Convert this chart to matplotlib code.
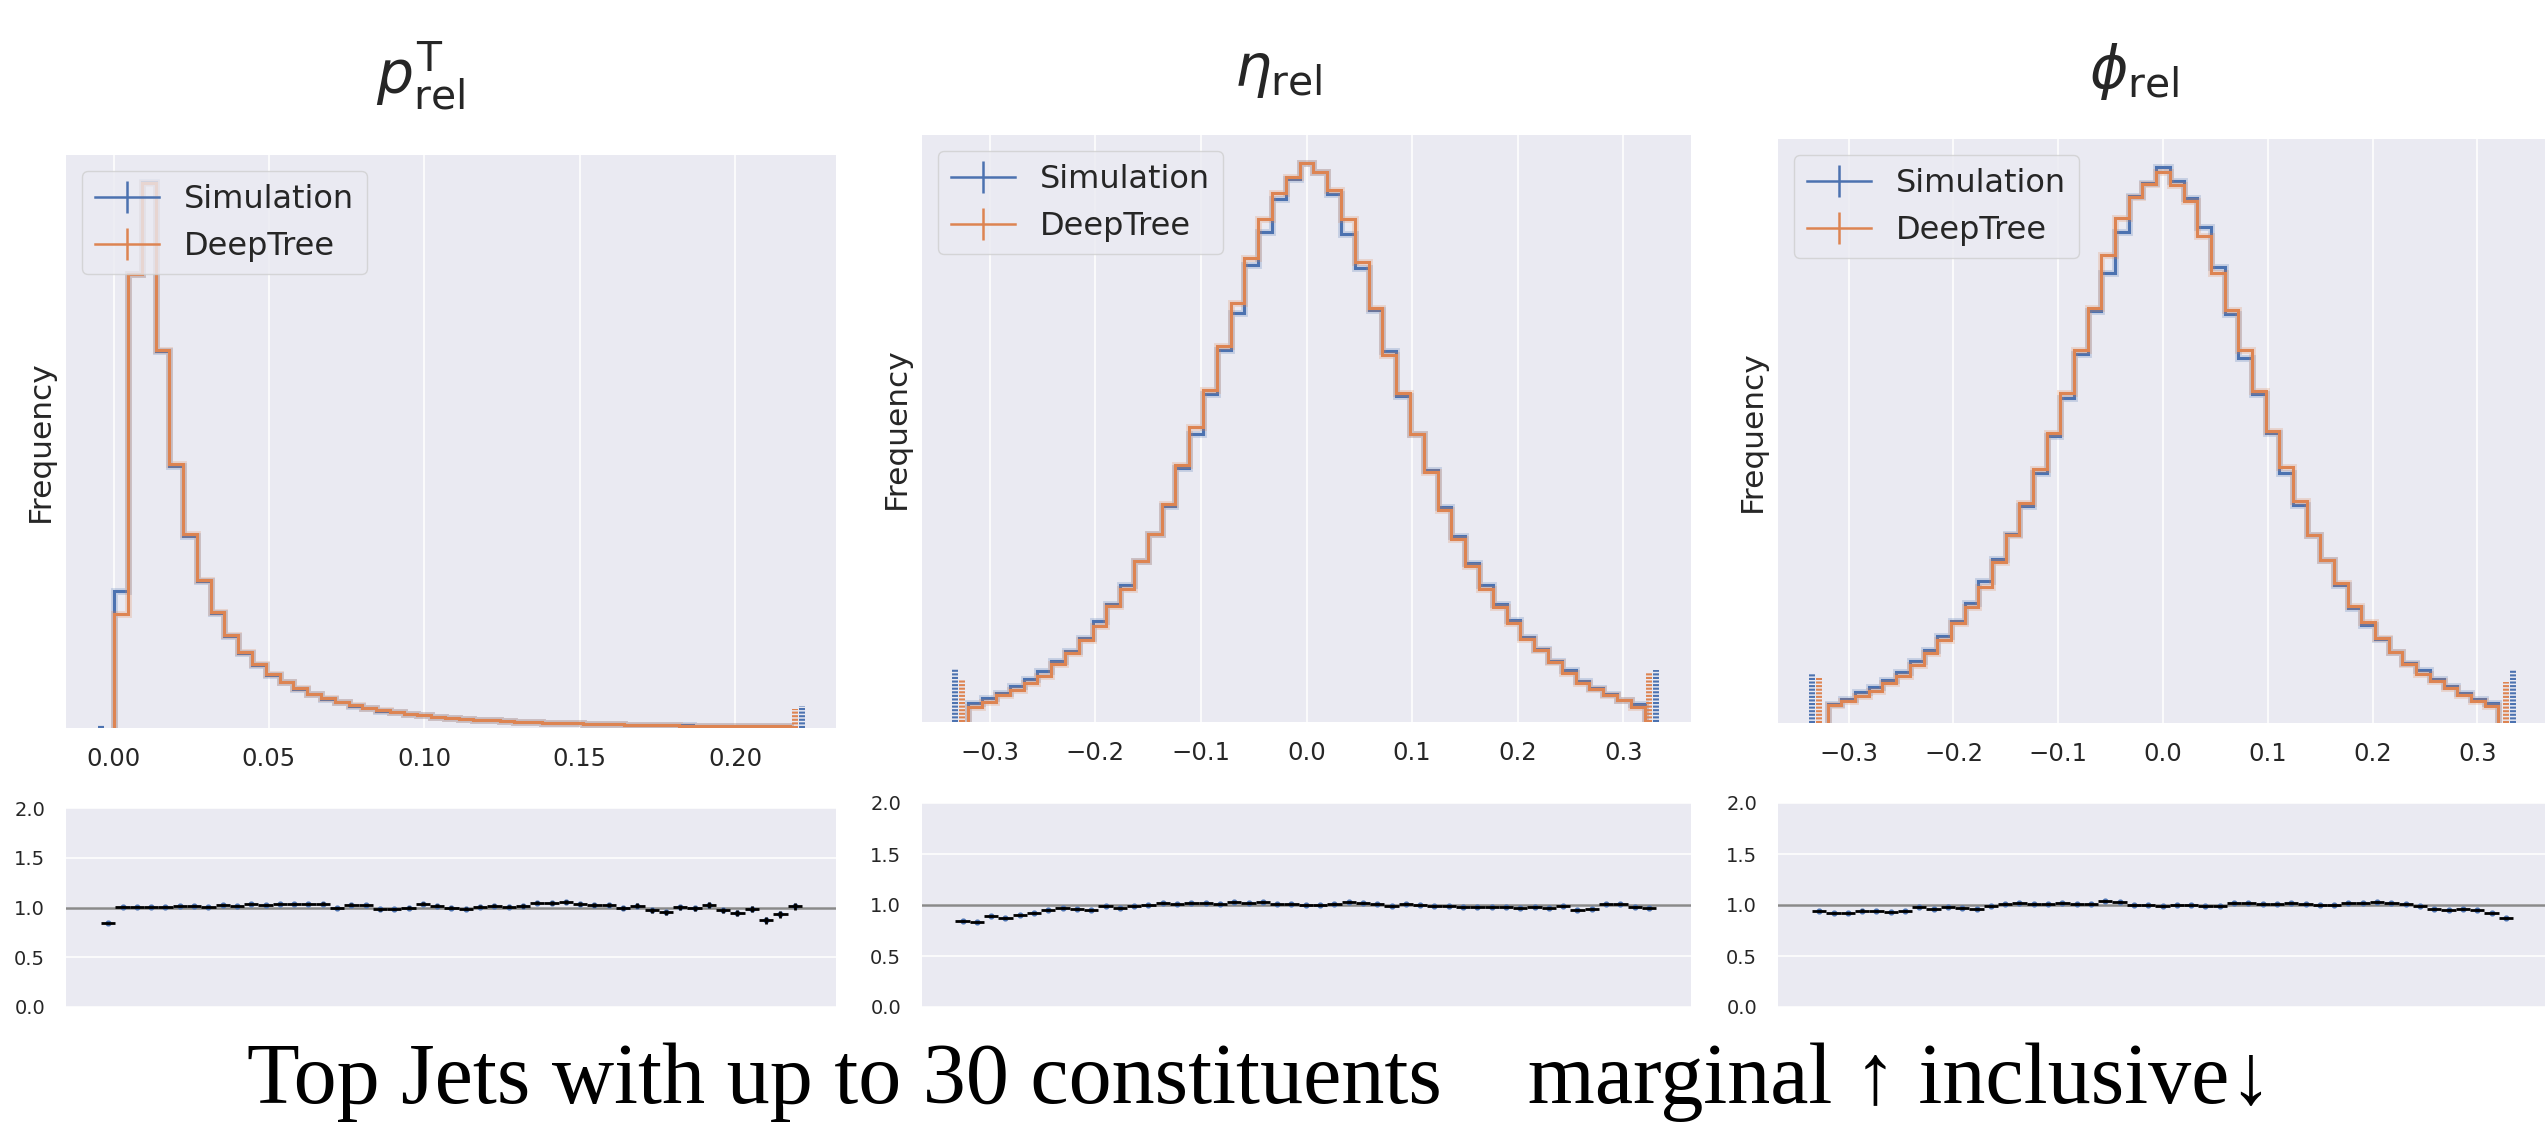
"""
Top-jet marginals: p_T, eta, phi (relative) — Simulation vs DeepTree
with ratio panels underneath.
"""

import matplotlib
matplotlib.use("Agg")
import matplotlib.pyplot as plt
import numpy as np

# ── Canvas ───────────────────────────────────────────────────────────────────
W, H, DPI = 2545, 1124, 100
_BG     = "#EAEAF2"
_TEXT   = "#262626"
_BLUE   = "#4C72B0"
_ORANGE = "#DD8452"
_GREY   = "#8a8a8a"

# ── Data (normalised to the peak bin) ───────────────────────────────────────
PT_RANGE = (0.0002, 0.2176)          # 49 bins
PT_SIM = [0.251, 0.832, 1.000, 0.691, 0.481, 0.352, 0.269, 0.211, 0.168, 0.138,
          0.116, 0.098, 0.084, 0.072, 0.062, 0.054, 0.047, 0.041, 0.036, 0.032,
          0.029, 0.026, 0.023, 0.021, 0.019, 0.017, 0.0155, 0.014, 0.0128, 0.0117,
          0.0107, 0.0098, 0.0090, 0.0083, 0.0077, 0.0071, 0.0066, 0.0061, 0.0057, 0.0053,
          0.0049, 0.0046, 0.0043, 0.0040, 0.0037, 0.0035, 0.0033, 0.0031, 0.0029]
PT_DT  = [0.209, 0.832, 0.998, 0.693, 0.483, 0.355, 0.271, 0.212, 0.170, 0.140,
          0.118, 0.099, 0.085, 0.073, 0.063, 0.055, 0.048, 0.042, 0.037, 0.033,
          0.029, 0.026, 0.023, 0.021, 0.019, 0.017, 0.0155, 0.014, 0.0130, 0.0118,
          0.0108, 0.0099, 0.0092, 0.0085, 0.0078, 0.0072, 0.0066, 0.0061, 0.0056, 0.0052,
          0.0049, 0.0045, 0.0042, 0.0039, 0.0036, 0.0034, 0.0032, 0.0030, 0.0028]

ETA_RANGE = (-0.32, 0.32)
ETA_SIM = [0.0339, 0.0430, 0.0521, 0.0640, 0.0778, 0.0906, 0.1098, 0.1263, 0.1510, 0.1802,
           0.2104, 0.2443, 0.2882, 0.3367, 0.3861, 0.4547, 0.5151, 0.5874, 0.6651, 0.7319,
           0.8170, 0.8765, 0.9360, 0.9716, 1.0000, 0.9835, 0.9442, 0.8737, 0.8115, 0.7365,
           0.6633, 0.5828, 0.5151, 0.4511, 0.3843, 0.3321, 0.2845, 0.2443, 0.2104, 0.1830,
           0.1528, 0.1308, 0.1089, 0.0924, 0.0741, 0.0613, 0.0503, 0.0393, 0.0320]
ETA_DT  = [0.0274, 0.0366, 0.0485, 0.0576, 0.0704, 0.0823, 0.1034, 0.1235, 0.1464, 0.1711,
           0.2077, 0.2379, 0.2882, 0.3367, 0.3907, 0.4593, 0.5279, 0.5947, 0.6725, 0.7502,
           0.8298, 0.8994, 0.9469, 0.9744, 1.0000, 0.9835, 0.9515, 0.8994, 0.8234, 0.7411,
           0.6569, 0.5883, 0.5151, 0.4465, 0.3797, 0.3266, 0.2790, 0.2379, 0.2059, 0.1766,
           0.1491, 0.1281, 0.1070, 0.0869, 0.0704, 0.0595, 0.0485, 0.0393, 0.0274]

PHI_RANGE = (-0.32, 0.32)
PHI_SIM = [0.0348, 0.0440, 0.0550, 0.0642, 0.0779, 0.0917, 0.1118, 0.1311, 0.1558, 0.1833,
           0.2154, 0.2548, 0.2942, 0.3391, 0.3896, 0.4491, 0.5160, 0.5848, 0.6627, 0.7406,
           0.8093, 0.8827, 0.9468, 0.9716, 1.0000, 0.9743, 0.9441, 0.8909, 0.8203, 0.7360,
           0.6554, 0.5912, 0.5206, 0.4500, 0.3923, 0.3373, 0.2933, 0.2484, 0.2071, 0.1769,
           0.1512, 0.1283, 0.1082, 0.0944, 0.0788, 0.0660, 0.0532, 0.0440, 0.0367]
PHI_DT  = [0.0330, 0.0394, 0.0486, 0.0577, 0.0715, 0.0852, 0.1036, 0.1265, 0.1494, 0.1797,
           0.2090, 0.2438, 0.2896, 0.3373, 0.3950, 0.4565, 0.5206, 0.5939, 0.6709, 0.7470,
           0.8414, 0.9074, 0.9450, 0.9697, 0.9908, 0.9679, 0.9377, 0.8763, 0.8093, 0.7434,
           0.6700, 0.5967, 0.5243, 0.4610, 0.3987, 0.3373, 0.2933, 0.2521, 0.2108, 0.1815,
           0.1522, 0.1283, 0.1063, 0.0880, 0.0752, 0.0623, 0.0504, 0.0394, 0.0302]

# outermost samples (x, height) — drawn as dashed stubs at the range edges
PT_ENDS_SIM  = [(-0.0040, 0.006), (0.2215, 0.040)]
PT_ENDS_DT   = [(0.2192, 0.035)]
ETA_ENDS_SIM = [(-0.3324, 0.0955), (0.3310, 0.0925)]
ETA_ENDS_DT  = [(-0.3258, 0.0764), (0.3246, 0.0880)]
PHI_ENDS_SIM = [(-0.3350, 0.0900), (0.3341, 0.0958)]
PHI_ENDS_DT  = [(-0.3284, 0.0810), (0.3271, 0.0730)]

# ratio DeepTree / Simulation (49 bins over the full sample range)
PT_RATIO_RANGE = (-0.0040, 0.2215)
PT_RATIO = [0.840, 1.007, 1.007, 1.003, 1.010, 1.013, 1.017, 1.010, 1.027, 1.020,
            1.033, 1.027, 1.040, 1.040, 1.033, 1.040, 0.993, 1.030, 1.027, 0.980,
            0.987, 1.000, 1.037, 1.017, 1.000, 0.987, 1.007, 1.020, 1.010, 1.013,
            1.050, 1.043, 1.057, 1.037, 1.023, 1.023, 0.997, 1.020, 0.973, 0.953,
            1.003, 0.993, 1.023, 0.970, 0.947, 0.987, 0.870, 0.933, 1.013]
PT_RATIO_ERR = [0.006, 0.004, 0.004, 0.005, 0.005, 0.006, 0.006, 0.007, 0.007, 0.008,
                0.008, 0.009, 0.009, 0.010, 0.010, 0.011, 0.011, 0.012, 0.012, 0.013,
                0.013, 0.014, 0.014, 0.015, 0.015, 0.016, 0.016, 0.017, 0.018, 0.018,
                0.019, 0.020, 0.020, 0.021, 0.022, 0.022, 0.023, 0.024, 0.025, 0.026,
                0.026, 0.027, 0.028, 0.029, 0.030, 0.031, 0.032, 0.034, 0.035]

ETA_RATIO_RANGE = (-0.3324, 0.3310)
ETA_RATIO = [0.845, 0.835, 0.894, 0.868, 0.900, 0.923, 0.955, 0.974, 0.965, 0.948,
             0.994, 0.968, 0.990, 1.000, 1.016, 1.013, 1.023, 1.016, 1.013, 1.029,
             1.019, 1.026, 1.013, 1.006, 0.997, 1.003, 1.013, 1.029, 1.019, 1.006,
             0.987, 1.010, 1.003, 0.994, 0.987, 0.981, 0.981, 0.977, 0.984, 0.974,
             0.977, 0.974, 0.990, 0.952, 0.965, 1.006, 1.010, 0.984, 0.974]
ETA_RATIO_ERR = 0.010

PHI_RATIO_RANGE = (-0.3350, 0.3341)
PHI_RATIO = [0.942, 0.920, 0.923, 0.946, 0.942, 0.936, 0.942, 0.978, 0.962, 0.984,
             0.974, 0.962, 0.987, 1.006, 1.016, 1.013, 1.006, 1.019, 1.013, 1.013,
             1.042, 1.026, 0.997, 1.003, 0.994, 1.000, 0.997, 0.990, 0.987, 1.016,
             1.022, 1.013, 1.006, 1.019, 1.013, 1.003, 1.000, 1.016, 1.016, 1.026,
             1.022, 1.006, 0.987, 0.962, 0.952, 0.958, 0.952, 0.923, 0.872]
PHI_RATIO_ERR = 0.010

TITLES = [r"$p_{\mathrm{rel}}^{\mathrm{T}}$", r"$\eta_{\mathrm{rel}}$", r"$\phi_{\mathrm{rel}}$"]
LABELS = ["Simulation", "DeepTree"]
SUPTITLE = "Top Jets with up to 30 constituents    marginal \u2191 inclusive\u2193"

PT_TICKS  = [0.00, 0.05, 0.10, 0.15, 0.20]
ANG_TICKS = [-0.3, -0.2, -0.1, 0.0, 0.1, 0.2, 0.3]
RATIO_TICKS = [0.0, 0.5, 1.0, 1.5, 2.0]


# ── Layout (pixel boxes: x0, y0, x1, y1 measured from the top-left) ─────────
def _box(x0, y0, x1, y1):
    return [x0 / W, 1 - y1 / H, (x1 - x0) / W, (y1 - y0) / H]


def _style(ax):
    ax.set_facecolor(_BG)
    ax.set_axisbelow(True)
    ax.grid(True, color="white", linewidth=1.1)
    for sp in ax.spines.values():
        sp.set_visible(False)
    ax.tick_params(length=0, colors=_TEXT)


def draw_top(ax, rng, sim, dt, ends_sim, ends_dt, xlim, ticks, fmt):
    _style(ax)
    edges = np.linspace(rng[0], rng[1], len(sim) + 1)
    for vals, col in ((sim, _BLUE), (dt, _ORANGE)):
        ax.stairs(vals, edges, color=col, linewidth=5, alpha=0.22)
        ax.stairs(vals, edges, color=col, linewidth=2.2)
    for ends, col in ((ends_sim, _BLUE), (ends_dt, _ORANGE)):
        for x, h in ends:
            ax.vlines(x, 0, h, colors=col, linewidth=4.3,
                      linestyles=[(0, (0.35, 0.25))])
    # legend handles: errorbar style (line + vertical bar)
    for col, lab in zip((_BLUE, _ORANGE), LABELS):
        ax.errorbar([np.nan], [np.nan], yerr=[np.nan], color=col,
                    linewidth=1.8, label=lab)
    ax.set_xlim(*xlim)
    ax.set_ylim(0, 1.05)
    ax.set_yticks([])
    ax.set_xticks(ticks)
    ax.set_xticklabels([fmt.format(t).replace("-", "\u2212") for t in ticks])
    ax.tick_params(axis="x", labelsize=17.5, pad=14)
    ax.set_ylabel("Frequency", fontsize=22.5, color=_TEXT, labelpad=8)
    ax.legend(loc="upper left", fontsize=23, facecolor=_BG, edgecolor="#cfcfcf",
              framealpha=0.8, labelcolor=_TEXT)


def draw_ratio(ax, rng, ratio, err, xlim):
    _style(ax)
    redges = np.linspace(rng[0], rng[1], len(ratio) + 1)
    centers = 0.5 * (redges[:-1] + redges[1:])
    half = 0.5 * np.diff(redges)
    ax.axhline(1.0, color=_GREY, linewidth=1.8, zorder=1.5)
    ax.plot(centers, ratio, "o", color=_BLUE, markersize=3.4, zorder=2)
    ax.errorbar(centers, ratio, xerr=half, yerr=err, fmt="none",
                ecolor="black", elinewidth=2.0, zorder=3)
    ax.set_xlim(*xlim)
    ax.set_ylim(0, 2)
    ax.set_xticks([])
    ax.set_yticks(RATIO_TICKS)
    ax.set_yticklabels([f"{t:.1f}" for t in RATIO_TICKS])
    ax.tick_params(axis="y", labelsize=14, pad=15)


fig = plt.figure(figsize=(W / DPI, H / DPI), dpi=DPI)
fig.patch.set_facecolor("white")

columns = [
    dict(top=(66, 155, 836, 728), bot=(66, 808, 836, 1007), xlim=(-0.0153, 0.2325),
         rng=PT_RANGE, sim=PT_SIM, dt=PT_DT, es=PT_ENDS_SIM, ed=PT_ENDS_DT,
         ticks=PT_TICKS, fmt="{:.2f}", rr=PT_RATIO_RANGE, ratio=PT_RATIO,
         err=PT_RATIO_ERR, tx=420, ty=113),
    dict(top=(922, 135, 1691, 722), bot=(922, 803, 1691, 1007), xlim=(-0.364, 0.364),
         rng=ETA_RANGE, sim=ETA_SIM, dt=ETA_DT, es=ETA_ENDS_SIM, ed=ETA_ENDS_DT,
         ticks=ANG_TICKS, fmt="{:.1f}", rr=ETA_RATIO_RANGE, ratio=ETA_RATIO,
         err=ETA_RATIO_ERR, tx=1278, ty=100),
    dict(top=(1778, 139, 2548, 723), bot=(1778, 803, 2548, 1007), xlim=(-0.3675, 0.3675),
         rng=PHI_RANGE, sim=PHI_SIM, dt=PHI_DT, es=PHI_ENDS_SIM, ed=PHI_ENDS_DT,
         ticks=ANG_TICKS, fmt="{:.1f}", rr=PHI_RATIO_RANGE, ratio=PHI_RATIO,
         err=PHI_RATIO_ERR, tx=2134, ty=102),
]

for col, title in zip(columns, TITLES):
    ax_t = fig.add_axes(_box(*col["top"]))
    draw_top(ax_t, col["rng"], col["sim"], col["dt"], col["es"], col["ed"],
             col["xlim"], col["ticks"], col["fmt"])
    ax_b = fig.add_axes(_box(*col["bot"]))
    draw_ratio(ax_b, col["rr"], col["ratio"], col["err"], col["xlim"])
    fig.text(col["tx"] / W, 1 - col["ty"] / H, title, fontsize=42, color=_TEXT,
             ha="center", va="bottom")

fig.text(1260 / W, 1 - 1103 / H, SUPTITLE, fontsize=62, color="black",
         ha="center", va="baseline", family=["Liberation Serif", "DejaVu Serif"])

fig.savefig("out.png", dpi=DPI, facecolor="white")
